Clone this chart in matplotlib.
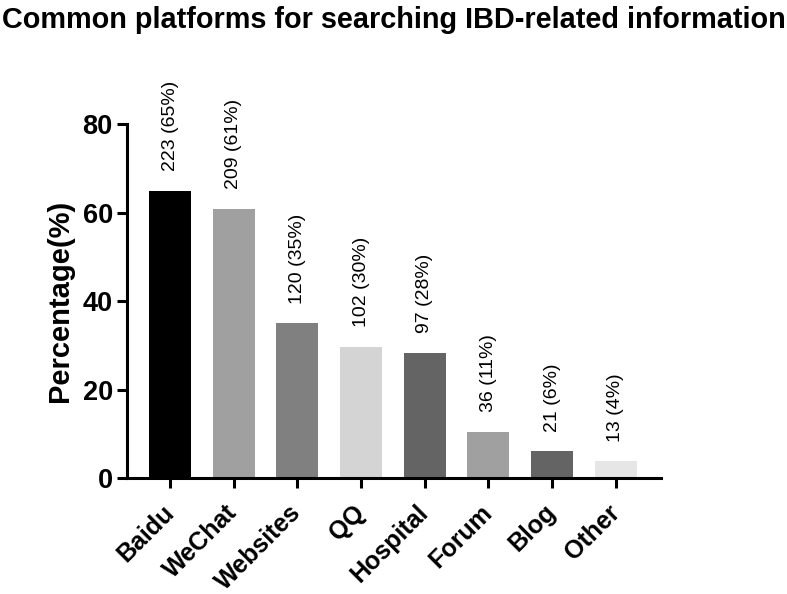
import numpy as np
import matplotlib
matplotlib.use('Agg')
import matplotlib.pyplot as plt

plt.rcParams['font.family'] = ['Liberation Sans', 'DejaVu Sans']

platforms = ['Baidu', 'WeChat', 'Websites', 'QQ', 'Hospital', 'Forum', 'Blog', 'Other']
counts = [223, 209, 120, 102, 97, 36, 21, 13]
pct_labels = ['65%', '61%', '35%', '30%', '28%', '11%', '6%', '4%']
percent = [65.0, 60.9, 35.0, 29.7, 28.3, 10.5, 6.1, 3.8]
colors = ['#000000', '#a0a0a0', '#808080', '#d4d4d4', '#646464', '#a0a0a0', '#646464', '#e6e6e6']

fig = plt.figure(figsize=(7.87, 5.94), dpi=100)
ax = fig.add_axes([0.161, 0.195, 0.679, 0.596])

x = np.arange(len(platforms))
bars = ax.bar(x, percent, width=0.66, color=colors)

# count (percent) written upright above each bar
for xi, v, c, p in zip(x, percent, counts, pct_labels):
    ax.annotate(f'{c} ({p})', (xi, v), xytext=(0, 14), textcoords='offset points',
                rotation=90, ha='center', va='bottom', fontsize=14)

ax.set_xlim(-0.68, 7.71)
ax.set_ylim(0, 80)
ax.set_yticks([0, 20, 40, 60, 80])
ax.set_xticks(x)
ax.set_xticklabels(platforms, rotation=45, ha='right', va='center', rotation_mode='anchor',
                   fontsize=18, fontweight='bold')
for lab in ax.get_yticklabels():
    lab.set_fontsize(19.5)
    lab.set_fontweight('bold')
ax.set_ylabel('Percentage(%)', fontsize=21, fontweight='bold', labelpad=6)

for s in ['top', 'right']:
    ax.spines[s].set_visible(False)
for s in ['left', 'bottom']:
    ax.spines[s].set_linewidth(2.2)
ax.tick_params(axis='both', width=2.2, length=7, direction='out')
ax.tick_params(axis='y', pad=3)
ax.tick_params(axis='x', pad=15)

fig.text(0.5, 0.99, 'Common platforms for searching IBD-related information',
         ha='center', va='top', fontsize=20.8, fontweight='bold')

fig.savefig('out.png', dpi=100)
